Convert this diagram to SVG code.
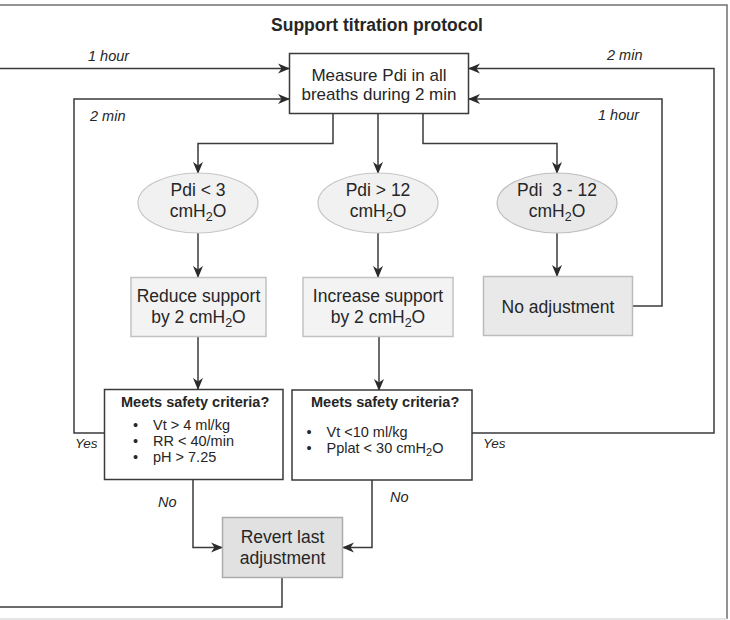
<svg xmlns="http://www.w3.org/2000/svg" width="730" height="620" viewBox="0 0 730 620">
<defs>
<marker id="arr" markerUnits="userSpaceOnUse" markerWidth="12" markerHeight="12" viewBox="0 0 12 10" refX="11" refY="5" orient="auto">
<path d="M0,0 L12,5 L0,10 L3.5,5 z" fill="#2b2b2b"/>
</marker>
<style>
text{font-family:"Liberation Sans",Arial,Helvetica,sans-serif;fill:#262626;}
.m{font-size:17.5px;text-anchor:middle;}
.title{font-size:17.5px;font-weight:bold;text-anchor:middle;}
.s{font-size:14.5px;}
.sb{font-size:14.5px;font-weight:bold;}
.it{font-size:14.5px;font-style:italic;}
.c{fill:none;stroke:#3a3a3a;stroke-width:1.5;}
.ca{fill:none;stroke:#3a3a3a;stroke-width:1.5;marker-end:url(#arr);}
.frame{fill:none;stroke:#707070;stroke-width:1.5;}
.box{fill:#ffffff;stroke:#3a3a3a;stroke-width:1.5;}
.ell{fill:#f1f1f1;stroke:#c6c6c6;stroke-width:1.2;}
.ell2{fill:#e9e9e9;stroke:#bdbdbd;stroke-width:1.2;}
.gb{fill:#f3f3f3;stroke:#c2c2c2;stroke-width:1.5;}
.gb2{fill:#e9e9e9;stroke:#bcbcbc;stroke-width:1.5;}
.gb3{fill:#e1e1e1;stroke:#acacac;stroke-width:1.5;}
</style>
</defs>
<rect width="730" height="620" fill="#ffffff"/>
<g id="frame">
<path class="frame" d="M0,5 H727 V619"/>
<path d="M0,619 H727" fill="none" stroke="#dcdcdc" stroke-width="1.5"/>
</g>
<text class="title" x="377" y="31">Support titration protocol</text>

<g id="connectors">
<path class="ca" d="M0,68.5 H289"/>
<path class="ca" d="M104,433 H74 V99 H289"/>
<path class="ca" d="M472,433 H714 V68.5 H469"/>
<path class="ca" d="M633,306 H662 V99 H469"/>
<path class="ca" d="M333,113 V143.5 H198 V173"/>
<path class="ca" d="M378,113 V173"/>
<path class="ca" d="M423,113 V143.5 H557 V173"/>
<path class="ca" d="M198,233 V277"/>
<path class="ca" d="M378,233 V277"/>
<path class="ca" d="M557,233 V276"/>
<path class="ca" d="M198,337 V389"/>
<path class="ca" d="M379,337 V390"/>
<path class="ca" d="M193,479 V547.5 H222"/>
<path class="ca" d="M372,480 V547.5 H343"/>
<path class="c" d="M282,577 V607 H0"/>
<text class="it" x="88" y="60.5">1 hour</text>
<text class="it" x="90" y="120.5">2 min</text>
<text class="it" x="607" y="60">2 min</text>
<text class="it" x="598" y="120">1 hour</text>
<text class="it" x="75" y="448" style="font-size:13.5px">Yes</text>
<text class="it" x="483" y="448" style="font-size:13.5px">Yes</text>
<text class="it" x="158" y="506.5">No</text>
<text class="it" x="390" y="501.5">No</text>
</g>

<g id="measure">
<rect class="box" x="289.5" y="53.5" width="179" height="60"/>
<text class="m" x="379" y="80.5" style="font-size:17px">Measure Pdi in all</text>
<text class="m" x="379" y="100" style="font-size:17px">breaths during 2 min</text>
</g>

<g id="pdi-low">
<ellipse class="ell" cx="198" cy="203" rx="60" ry="30"/>
<text class="m" x="198" y="196">Pdi &lt; 3</text>
<text class="m" x="198" y="217">cmH<tspan font-size="12.5" dy="4">2</tspan><tspan dy="-4">O</tspan></text>
</g>
<g id="pdi-high">
<ellipse class="ell" cx="378" cy="203" rx="60" ry="30"/>
<text class="m" x="378" y="196">Pdi &gt; 12</text>
<text class="m" x="378" y="217">cmH<tspan font-size="12.5" dy="4">2</tspan><tspan dy="-4">O</tspan></text>
</g>
<g id="pdi-mid">
<ellipse class="ell2" cx="557" cy="203" rx="60" ry="30"/>
<text class="m" x="557" y="196" xml:space="preserve">Pdi  3 - 12</text>
<text class="m" x="557" y="217">cmH<tspan font-size="12.5" dy="4">2</tspan><tspan dy="-4">O</tspan></text>
</g>

<g id="reduce">
<rect class="gb" x="131" y="277.5" width="135" height="59"/>
<text class="m" x="198.5" y="301.5">Reduce support</text>
<text class="m" x="198.5" y="322.5">by 2 cmH<tspan font-size="12.5" dy="4">2</tspan><tspan dy="-4">O</tspan></text>
</g>
<g id="increase">
<rect class="gb" x="303" y="277.5" width="150" height="59"/>
<text class="m" x="378" y="301.5">Increase support</text>
<text class="m" x="378" y="322.5">by 2 cmH<tspan font-size="12.5" dy="4">2</tspan><tspan dy="-4">O</tspan></text>
</g>
<g id="no-adjustment">
<rect class="gb2" x="483.5" y="276.5" width="149" height="59"/>
<text class="m" x="558" y="312.5">No adjustment</text>
</g>

<g id="safety-reduce">
<rect class="box" x="104.5" y="389.5" width="178.5" height="90"/>
<text class="sb" x="121" y="406.5">Meets safety criteria?</text>
<text class="s" x="133" y="430">•</text>
<text class="s" x="153" y="430">Vt &gt; 4 ml/kg</text>
<text class="s" x="133" y="446">•</text>
<text class="s" x="153" y="446">RR &lt; 40/min</text>
<text class="s" x="133" y="462">•</text>
<text class="s" x="153" y="462">pH &gt; 7.25</text>
</g>
<g id="safety-increase">
<rect class="box" x="292" y="390" width="180" height="90"/>
<text class="sb" x="311" y="406.5">Meets safety criteria?</text>
<text class="s" x="306.5" y="437">•</text>
<text class="s" x="326.5" y="437">Vt &lt;10 ml/kg</text>
<text class="s" x="306.5" y="453">•</text>
<text class="s" x="326.5" y="453">Pplat &lt; 30 cmH<tspan font-size="11" dy="3">2</tspan><tspan dy="-3">O</tspan></text>
</g>

<g id="revert">
<rect class="gb3" x="222.5" y="517.5" width="120" height="60"/>
<text class="m" x="282.5" y="542.5">Revert last</text>
<text class="m" x="282.5" y="564">adjustment</text>
</g>
</svg>
